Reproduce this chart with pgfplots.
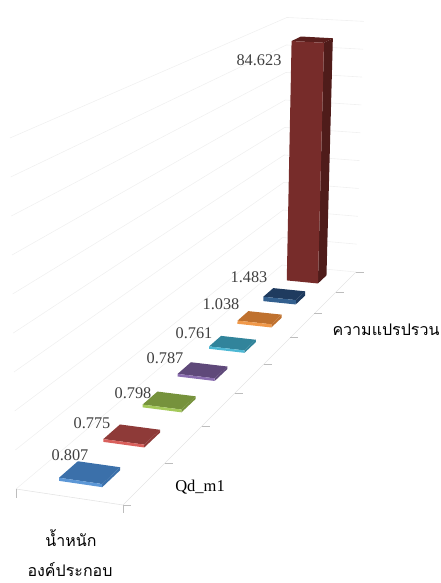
\documentclass[border=0pt]{standalone}
\usepackage{fontspec}
\usepackage{pgfplots}
\usepackage{pgfplotstable}
\pgfplotsset{compat=1.18}
\setmainfont{Liberation Serif}
\newfontfamily\thaifont[Script=Thai]{Loma}

% colours of the bars: top, front, side
\definecolor{b1t}{HTML}{3B70AA}\definecolor{b1f}{HTML}{5C97D6}\definecolor{b1s}{HTML}{3B70AA}
\definecolor{b2t}{HTML}{8E3A38}\definecolor{b2f}{HTML}{D9605C}\definecolor{b2s}{HTML}{8E3A38}
\definecolor{b3t}{HTML}{76923C}\definecolor{b3f}{HTML}{A4C95A}\definecolor{b3s}{HTML}{76923C}
\definecolor{b4t}{HTML}{5F497A}\definecolor{b4f}{HTML}{8A6DB0}\definecolor{b4s}{HTML}{5F497A}
\definecolor{b5t}{HTML}{31849B}\definecolor{b5f}{HTML}{4DB8D4}\definecolor{b5s}{HTML}{31849B}
\definecolor{b6t}{HTML}{BF712E}\definecolor{b6f}{HTML}{F0994A}\definecolor{b6s}{HTML}{BF712E}
\definecolor{b7t}{HTML}{1F3B5F}\definecolor{b7f}{HTML}{33608F}\definecolor{b7s}{HTML}{1F3B5F}
\definecolor{b8t}{HTML}{5A1F1D}\definecolor{b8f}{HTML}{772C2A}\definecolor{b8s}{HTML}{4F1C1A}
\definecolor{wallline}{HTML}{F0F0F0}
\definecolor{floorline}{HTML}{E4E4E4}
\definecolor{tickline}{HTML}{BDBDBD}
\definecolor{valuetext}{HTML}{404040}

% unit shapes of the box faces (a, b across and along the floor; h upward)
\pgfplotstableread{
a b h
-1 -1 1
1 -1 1
1 1 1
-1 1 1
}\facetop
\pgfplotstableread{
a b h
-1 -1 0
1 -1 0
1 -1 1
-1 -1 1
}\facefront
\pgfplotstableread{
a b h
1 -1 0
1 1 0
1 1 1
1 -1 1
}\faceside
\pgfplotstableread{
t q
0 0
1 1
}\segment

% one box: category position, value, colour prefix, label position
\newcommand\drawface[4]{%
  \addplot[fill=#4,draw=none,forget plot] table[
    x expr={px(0.48+0.205*\thisrow{a},(#1+0.5+0.205*\thisrow{b})/8,#2*\thisrow{h}/90)},
    y expr={py(0.48+0.205*\thisrow{a},(#1+0.5+0.205*\thisrow{b})/8,#2*\thisrow{h}/90)}
  ] {#3} -- cycle;
}
\newcommand\drawbar[5]{%
  \drawface{#1}{#2}{\faceside}{#3s}
  \drawface{#1}{#2}{\facetop}{#3t}
  \drawface{#1}{#2}{\facefront}{#3f}
  \node[text=valuetext,font=\fontsize{16.3}{17}\selectfont] at (axis cs:#4,#5) {#2};
}
% a straight line on the floor or the walls
\newcommand\gridseg[6]{%
  \addplot[#6,line width=0.6pt,forget plot] table[
    x expr={px(#1+(#3-#1)*\thisrow{t},(#2+(#4-#2)*\thisrow{t})/8,#5)},
    y expr={py(#1+(#3-#1)*\thisrow{t},(#2+(#4-#2)*\thisrow{t})/8,#5)}
  ] {\segment};
}
% a tick: offset in picture units from a floor point
\newcommand\floortick[4]{%
  \addplot[tickline,line width=0.7pt,forget plot] table[
    x expr={px(#1,#2/8,0)+#3*\thisrow{t}},
    y expr={py(#1,#2/8,0)+#4*\thisrow{t}}
  ] {\segment};
}

\begin{document}
\begin{tikzpicture}[
  declare function={
    wf(\u,\s)=-0.02305*\u+0.5185*\s+1;
    fx(\u,\s)=(104.165*\u+412.2*\s+16)/wf(\u,\s);
    fy(\u,\s)=(4.36*\u-86.6*\s+489)/wf(\u,\s);
    px(\u,\s,\z)=fx(\u,\s)+\z*0.0412*(fx(\u,\s)-162);
    py(\u,\s,\z)=fy(\u,\s)-\z*(303/wf(\u,\s)+48);
  }]
\useasboundingbox (0,0) rectangle (441pt,583pt);
\begin{axis}[
  at={(0,0)},anchor=south west,
  scale only axis,width=441pt,height=583pt,
  xmin=0,xmax=441,ymin=0,ymax=583,y dir=reverse,
  hide axis,clip=false]

% walls
\pgfplotsinvokeforeach{0,...,9}{
  \gridseg{0}{0}{0}{8}{#1/9}{wallline}
  \gridseg{0}{8}{1}{8}{#1/9}{wallline}
}
% floor edges and ticks
\gridseg{0}{0}{1}{0}{0}{floorline}
\gridseg{1}{0}{1}{8}{0}{floorline}
\pgfplotsinvokeforeach{0,...,8}{\floortick{1}{#1}{8}{0}}
\floortick{1}{0}{0}{8}
\floortick{0}{0}{0}{9}

% boxes, far to near
\drawbar{7}{84.623}{b8}{259}{60}
\drawbar{6}{1.483}{b7}{249}{277}
\drawbar{5}{1.038}{b6}{221}{304}
\drawbar{4}{0.761}{b5}{194}{333}
\drawbar{3}{0.787}{b4}{165}{358}
\drawbar{2}{0.798}{b3}{133}{393}
\drawbar{1}{0.775}{b2}{92}{423}
\drawbar{0}{0.807}{b1}{70}{455}

% category and series names
\node[font=\fontsize{16.5}{17}\selectfont] at (axis cs:200,487) {Qd\_m1};
\node[font=\fontsize{16}{18}\thaifont] at (axis cs:386,330) {ความแปรปรวน};
\node[font=\fontsize{16}{18}\thaifont] at (axis cs:71,538) {น้ำหนัก};
\node[font=\fontsize{16}{18}\thaifont,inner sep=0pt] at (axis cs:70,570) {องค์ประกอบ};
\end{axis}
\end{tikzpicture}
\end{document}
